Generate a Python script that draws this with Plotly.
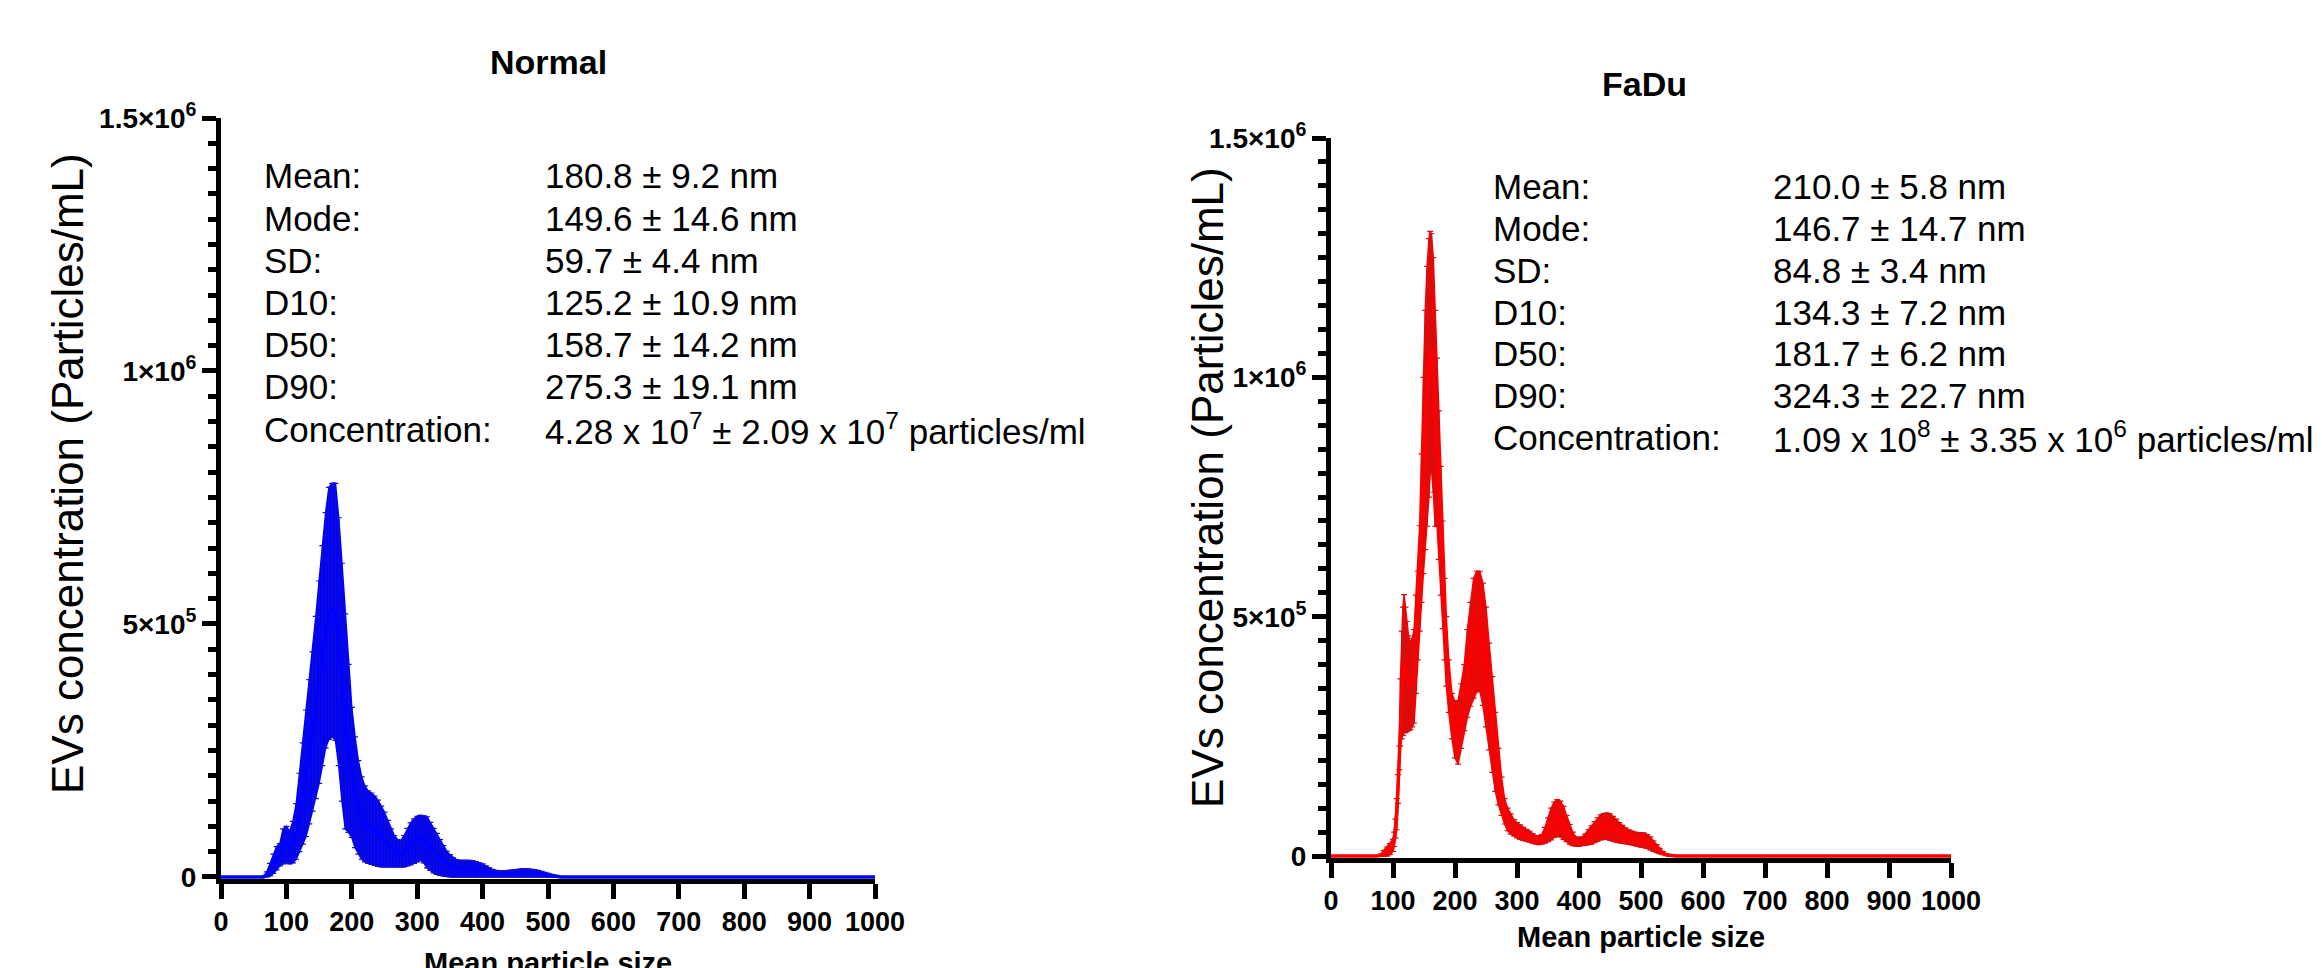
import plotly.graph_objects as go

W, H = 2322, 968
OFF = 8  # the page body adds an 8 px margin; positions below are screen pixels

# ---------------- DATA ----------------
# Normal EVs: particle size (nm), mean and SD concentration (x10^3 particles/mL)
normal_size = [0, 20, 40, 55,
               60, 65, 70, 75, 80, 85, 90, 95, 100, 105, 110, 115, 120, 125, 130, 135,
               140, 145, 150, 155, 160, 165, 170, 175, 180, 185, 190, 195, 200, 205, 210,
               215, 220, 225, 230, 235, 240, 245, 250, 255, 260, 265, 270, 275, 280, 285,
               290, 295, 300, 305, 310, 315, 320, 325, 330, 335, 340, 345, 350, 355, 360,
               365, 370, 375, 380, 385, 390, 395, 400, 405, 410, 415, 420, 425, 430, 435,
               440, 445, 450, 455, 460, 465, 470, 475, 480, 485, 490, 495, 500, 505, 510,
               515, 520, 540, 600, 700, 800, 900, 1000]
normal_mean_k = [0, 0, 0, 0,
                 0, 0, 5, 14.5, 26, 37, 44, 60.5, 64, 58, 69, 90, 127.5, 165, 205, 247.5,
                 287.5, 335, 385, 437.5, 487.5, 521, 527.5, 524, 465, 385, 307.5, 254, 206.5, 167.5, 137.5,
                 116.5, 105, 98.5, 95.5, 91.5, 86.5, 80, 74, 66, 57.5, 51, 47, 46, 51, 59,
                 65.5, 71, 75, 77.5, 74.5, 68.5, 60.5, 52, 45.5, 38.5, 32, 26, 22, 19, 17,
                 16.5, 16.5, 16.5, 16.5, 16, 15, 14, 13, 11, 9, 7.5, 6.5, 6, 6, 6,
                 6.5, 6.5, 7, 7.5, 8, 8, 8, 7.5, 7, 6.5, 5.5, 4.5, 3.5, 2.5, 1.5,
                 0.5, 0, 0, 0, 0, 0, 0, 0]
normal_sd_k = [0, 0, 0, 0,
               0, 0, 5, 12.5, 19, 23, 22, 34.5, 36, 32, 41, 55, 77.5, 100, 125, 142.5,
               157.5, 180, 200, 217.5, 232.5, 249, 250.5, 254, 245, 235, 212.5, 166, 128.5, 109.5, 92.5,
               81.5, 75, 71.5, 70.5, 68.5, 65.5, 60, 54, 46, 37.5, 31, 27, 26, 31, 37,
               41.5, 44, 45, 44.5, 46.5, 50.5, 47.5, 44, 40.5, 35.5, 30, 25, 22, 19, 17,
               16.5, 16.5, 16.5, 16.5, 16, 15, 14, 13, 11, 9, 7.5, 6.5, 6, 6, 6,
               6.5, 6.5, 7, 7.5, 8, 8, 8, 7.5, 7, 6.5, 5.5, 4.5, 3.5, 2.5, 1.5,
               0.5, 0, 0, 0, 0, 0, 0, 0]

# FaDu EVs
fadu_size = [0, 20, 40, 60, 70, 75, 80, 85, 90, 95, 100, 102, 104, 106, 108, 110, 112, 114,
             116, 118, 120, 122, 125, 128, 131, 134, 137, 140, 143, 146, 149, 152, 155, 158,
             160, 162, 165, 168, 171, 174, 177, 180, 183, 186, 190, 195, 200, 205, 210, 215,
             220, 225, 230, 235, 240, 245, 250, 255, 260, 265, 270, 275, 280, 285, 290, 295,
             300, 305, 310, 315, 320, 325, 330, 335, 340, 345, 350, 355, 360, 365, 370, 375,
             380, 385, 390, 395, 400, 405, 410, 415, 420, 425, 430, 435, 440, 445, 450, 455,
             460, 465, 470, 475, 480, 485, 490, 495, 500, 505, 510, 515, 520, 525, 530, 535,
             540, 545, 550, 555, 560, 600, 700, 800, 900, 1000]
fadu_mean_k = [0, 0, 0, 0, 0, 0, 2, 6, 9.5, 14.5, 22.5, 35, 57.5, 87.5, 140, 205, 300, 357.5,
               386, 402, 389, 375, 361, 354.5, 362.5, 375.5, 442.5, 502.5, 580, 685, 795, 890, 960.5, 1020,
               1052.5, 1055, 1005, 914.5, 865, 775, 679.5, 587.5, 495, 427.5, 355, 292.5, 263.5, 258.5, 292.5, 331,
               381.5, 421.5, 455, 469, 470, 442.5, 395, 333.5, 275, 217.5, 166, 125, 93.5, 76.5, 67, 59,
               54, 50, 46.5, 43.5, 40.5, 37, 34, 33, 35, 43.5, 55, 67, 76, 80, 77.5, 69.5,
               57.5, 45.5, 36, 30.5, 29.5, 31, 34.5, 39.5, 44, 50, 55.5, 60, 62, 62.5, 60.5, 57,
               53, 49, 45.5, 42.5, 40, 38, 36, 34.5, 34, 33, 30.5, 26.5, 21, 15.5, 10.5, 6.5,
               3, 1.5, 0.5, 0, 0, 0, 0, 0, 0, 0]
fadu_sd_k = [0, 0, 0, 0, 0, 0, 2, 6, 9.5, 11.5, 12.5, 15, 19.5, 32.5, 30, 25, 70, 112.5,
             134, 144, 131, 115, 99, 90.5, 92.5, 97.5, 102.5, 92.5, 110, 155, 205, 250, 271.5, 270,
             252.5, 245, 245, 225.5, 175, 155, 134.5, 112.5, 85, 72.5, 55, 47.5, 58.5, 66.5, 67.5, 69,
             91.5, 108.5, 125, 126, 125, 127.5, 125, 111.5, 100, 82.5, 59, 40, 26.5, 23.5, 21, 17,
             16, 15, 13.5, 12.5, 11.5, 10, 9, 9, 10, 16.5, 25, 33, 37, 38, 37.5, 34.5,
             27.5, 20.5, 14, 9.5, 8.5, 9, 11.5, 15.5, 19, 22, 24.5, 26, 27, 27.5, 27.5, 26,
             24, 21, 18.5, 16.5, 15, 14, 14, 14.5, 15, 15, 14.5, 13.5, 11, 8.5, 5.5, 3.5,
             2, 1.5, 0.5, 0, 0, 0, 0, 0, 0, 0]

x_ticks = [0, 100, 200, 300, 400, 500, 600, 700, 800, 900, 1000]
y_tickvals = [0, 500000, 1000000, 1500000]
y_ticktext = ["<b>0</b>", "<b>5×10<sup>5</sup></b>", "<b>1×10<sup>6</sup></b>", "<b>1.5×10<sup>6</sup></b>"]

stat_labels = ["Mean:", "Mode:", "SD:", "D10:", "D50:", "D90:", "Concentration:"]
normal_stats = ["180.8 ± 9.2 nm", "149.6 ± 14.6 nm", "59.7 ± 4.4 nm", "125.2 ± 10.9 nm",
                "158.7 ± 14.2 nm", "275.3 ± 19.1 nm",
                "4.28 x 10<sup>7</sup> ± 2.09 x 10<sup>7</sup> particles/ml"]
fadu_stats = ["210.0 ± 5.8 nm", "146.7 ± 14.7 nm", "84.8 ± 3.4 nm", "134.3 ± 7.2 nm",
              "181.7 ± 6.2 nm", "324.3 ± 22.7 nm",
              "1.09 x 10<sup>8</sup> ± 3.35 x 10<sup>6</sup> particles/ml"]

# ---------------- FIGURE ----------------
FONT = "Liberation Sans, Arial, sans-serif"
fig = go.Figure()


def add_series(size, mean_k, sd_k, color, capcolor, xa, ya):
    mean = [v * 1000 for v in mean_k]
    sd = [v * 1000 for v in sd_k]
    lo = [m - s for m, s in zip(mean, sd)]
    hi = [m + s for m, s in zip(mean, sd)]
    fig.add_trace(go.Scatter(x=size, y=lo, mode="lines", line=dict(color=color, width=1.5),
                             showlegend=False, hoverinfo="skip", xaxis=xa, yaxis=ya))
    fig.add_trace(go.Scatter(x=size, y=hi, mode="lines", line=dict(color=color, width=1.5),
                             fill="tonexty", fillcolor=color,
                             showlegend=False, hoverinfo="skip", xaxis=xa, yaxis=ya))
    fig.add_trace(go.Scatter(x=size, y=mean, mode="lines", line=dict(color=color, width=3.5),
                             error_y=dict(type="data", array=sd, visible=True, color=capcolor,
                                          thickness=1.2, width=3),
                             showlegend=False, xaxis=xa, yaxis=ya))


add_series(normal_size, normal_mean_k, normal_sd_k, "#0000FF", "#1010C8", "x", "y")
add_series(fadu_size, fadu_mean_k, fadu_sd_k, "#FF0000", "#D01010", "x2", "y2")


def px_x(p):
    return (p - OFF) / W


def px_y(p):
    return 1 - (p - OFF) / H


# panel geometry (screen pixels)
L = dict(x0=221, x1=875, y0=879, y1=118)
R = dict(x0=1331, x1=1951, y0=858, y1=138)

axis_common = dict(showline=True, linewidth=5, linecolor="black", ticks="outside",
                   tickwidth=5, tickcolor="black", showgrid=False, zeroline=False,
                   layer="below traces", automargin=False)
xcommon = dict(axis_common, range=[0, 1000], tickmode="array", tickvals=x_ticks,
               ticktext=["<b>%d</b>" % v for v in x_ticks], ticklen=15,
               tickfont=dict(family=FONT, size=27, color="black"))
ycommon = dict(axis_common, range=[-4000, 1500000], tickmode="array", tickvals=y_tickvals,
               ticktext=y_ticktext, ticklen=14,
               tickfont=dict(family=FONT, size=28, color="black"),
               minor=dict(tick0=0, dtick=50000, ticks="outside", ticklen=8, tickwidth=5,
                          tickcolor="black", showgrid=False))

fig.update_layout(
    width=W, height=H, autosize=False,
    margin=dict(l=0, r=0, t=0, b=0, pad=0, autoexpand=False),
    paper_bgcolor="white", plot_bgcolor="white",
    showlegend=False,
    xaxis=dict(xcommon, domain=[px_x(L["x0"]), px_x(L["x1"])], anchor="y"),
    yaxis=dict(ycommon, domain=[px_y(L["y0"]), px_y(L["y1"])], anchor="x"),
    xaxis2=dict(xcommon, domain=[px_x(R["x0"]), px_x(R["x1"])], anchor="y2"),
    yaxis2=dict(ycommon, domain=[px_y(R["y0"]), px_y(R["y1"])], anchor="x2"),
)

ann = []


def text(xp, yp, s, size, bold=False, xanchor="left", angle=0):
    ann.append(dict(x=px_x(xp), y=px_y(yp), xref="paper", yref="paper",
                    text=("<b>%s</b>" % s) if bold else s,
                    showarrow=False, xanchor=xanchor, yanchor="middle", textangle=angle,
                    font=dict(family=FONT, size=size, color="black")))


# titles
text(548, 62, "Normal", 34, bold=True, xanchor="center")
text(1645, 84, "FaDu", 34, bold=True, xanchor="center")
# x-axis titles
text(548, 963, "Mean particle size", 29, bold=True, xanchor="center")
text(1641, 937, "Mean particle size", 29, bold=True, xanchor="center")
# y-axis titles
text(67, 474, "EVs concentration (Particles/mL)", 44, xanchor="center", angle=-90)
text(1207, 488, "EVs concentration (Particles/mL)", 44, xanchor="center", angle=-90)

# statistics blocks
for i, (lab, v1, v2) in enumerate(zip(stat_labels, normal_stats, fadu_stats)):
    yl = 176 + i * 42.2
    yr = 187 + i * 41.7
    text(262, yl, lab, 35)
    text(543, yl, v1, 35)
    text(1491, yr, lab, 35)
    text(1771, yr, v2, 35)

fig.update_layout(annotations=ann)
fig.write_html("out.html")
